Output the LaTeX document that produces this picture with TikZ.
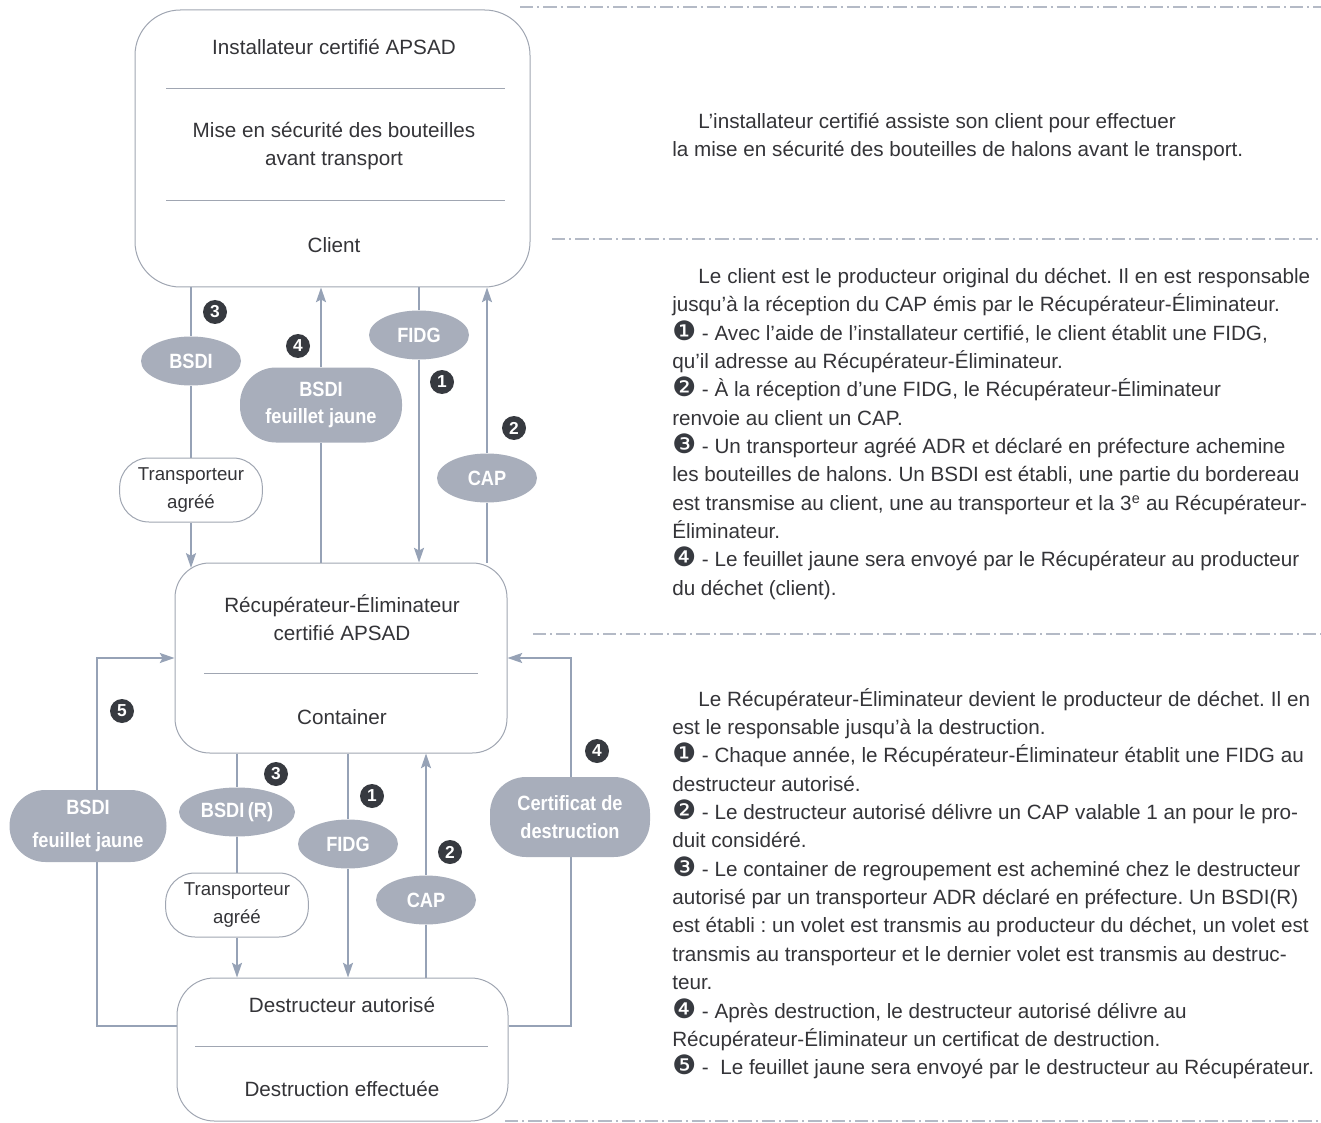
\documentclass[tikz,border=0pt]{standalone}
\usepackage{fontspec}
\setmainfont{Liberation Sans}
\newfontfamily\tagfont[FakeStretch=0.88]{Liberation Sans Bold}
\newfontfamily\dingfont{DejaVu Sans}
\usetikzlibrary{arrows.meta,backgrounds,shapes.geometric}
\frenchspacing

\definecolor{ink}{RGB}{52,52,56}
\definecolor{boxline}{RGB}{160,166,178}
\definecolor{flowgrey}{RGB}{150,162,182}
\definecolor{tagfill}{RGB}{168,174,187}
\definecolor{badge}{RGB}{55,58,64}
\definecolor{rulegrey}{RGB}{180,186,198}

\newcommand{\puce}[1]{{\dingfont\fontsize{20}{20}\selectfont\textcolor{badge}{#1}}}

\tikzset{every picture/.style={line width=0.75pt}}
\tikzset{
  bigbox/.style={draw=boxline, fill=white, rounded corners=#1, inner sep=0pt},
  carrier/.style={draw=boxline, fill=white, rounded corners=22pt, align=center, text=ink,
    font=\fontsize{14}{21}\selectfont, minimum width=107pt, minimum height=48pt, inner sep=0pt},
  docoval/.style={ellipse, fill=tagfill, text=white, font=\tagfont\fontsize{15.5}{20.5}\selectfont,
    minimum width=75pt, minimum height=36.75pt, inner sep=0pt},
  docpill/.style={fill=tagfill, text=white, rounded corners=27pt, align=center,
    font=\tagfont\fontsize{15.5}{20.5}\selectfont, inner sep=0pt},
  numdot/.style={circle, fill=badge, text=white, font=\bfseries\fontsize{13}{13}\selectfont,
    minimum size=18pt, inner sep=0pt},
  boxtext/.style={text=ink, align=center, font=\fontsize{15.5}{21}\selectfont},
  notetext/.style={text=ink, align=left, anchor=north west, inner sep=0pt,
    font=\fontsize{15.5}{21.26}\selectfont},
  flow/.style={draw=flowgrey, line width=1.3pt, -{Stealth[length=11pt,width=7.5pt,inset=2pt]}},
  boxrule/.style={draw=boxline, line width=0.6pt},
  pagerule/.style={draw=rulegrey, line width=0.9pt, dash pattern=on 10pt off 3pt on 1.5pt off 3pt}
}

\begin{document}
\begin{tikzpicture}[x=0.75pt,y=0.75pt,yscale=-1,xscale=1]
	\useasboundingbox (0,0) rectangle (1321,1123);

	%Shape: Rounded Rect [installateur / client]
	\node[bigbox=34pt, minimum width=296.25pt, minimum height=207.75pt] (inst) at (332.5,148.5) {};
	\draw[boxrule] (166,88) -- (505,88) ;
	\draw[boxrule] (166,200) -- (505,200) ;
	% Text Node
	\node[boxtext] (instTitle) at (334,47) {Installateur certifié APSAD};
	\node[boxtext] (instTask) at (334,146) {Mise en sécurité des bouteilles\\avant transport};
	\node[boxtext] (instClient) at (334,245) {Client};

	%Shape: Rounded Rect [recuperateur]
	\node[bigbox=26pt, minimum width=249pt, minimum height=142.5pt] (recup) at (341,658) {};
	\draw[boxrule] (204,673) -- (478,673) ;
	% Text Node
	\node[boxtext] (recupTitle) at (342,618) {Récupérateur-Éliminateur\\certifié APSAD};
	\node[boxtext] (recupCont) at (342,717) {Container};

	%Shape: Rounded Rect [destructeur]
	\node[bigbox=28pt, minimum width=248.25pt, minimum height=107.25pt] (destr) at (342.5,1049.5) {};
	\draw[boxrule] (195,1046) -- (488,1046) ;
	% Text Node
	\node[boxtext] (destrTitle) at (342,1005) {Destructeur autorisé};
	\node[boxtext] (destrDone) at (342,1089) {Destruction effectuée};

	%Documents between client and recuperateur
	\node[docoval] (bsdiA) at (191,361) {BSDI};
	\node[docpill, minimum width=121.5pt, minimum height=56.25pt] (sheetA) at (321,405) {BSDI\\feuillet jaune};
	\node[docoval] (fidgA) at (419,335) {FIDG};
	\node[docoval] (capA) at (487,478) {CAP};
	\node[carrier] (transA) at (191,490) {Transporteur\\agréé};

	%Documents between recuperateur and destructeur
	\node[docoval, minimum width=87pt] (bsdiB) at (237,812) {BSDI\,(R)};
	\node[docoval] (fidgB) at (348,844) {FIDG};
	\node[docoval] (capB) at (426,900) {CAP};
	\node[carrier] (transB) at (237,905) {Transporteur\\agréé};
	\node[docpill, minimum width=117.75pt, minimum height=54pt, font=\tagfont\fontsize{15.5}{25}\selectfont] (sheetB) at (88,826) {BSDI\\feuillet jaune};
	\node[docpill, minimum width=120pt, minimum height=60pt] (certB) at (570,817) {Certificat de\\destruction};
	\coordinate (leftturn) at (97,1026);
	\coordinate (rightturn) at (571,1026);

	%Step numbers
	\node[numdot] (nA3) at (215,312) {3};
	\node[numdot] (nA4) at (298,346) {4};
	\node[numdot] (nA1) at (442,382) {1};
	\node[numdot] (nA2) at (514,428) {2};
	\node[numdot] (nB5) at (122,711) {5};
	\node[numdot] (nB3) at (276,774) {3};
	\node[numdot] (nB1) at (372,796) {1};
	\node[numdot] (nB2) at (450,852) {2};
	\node[numdot] (nB4) at (597,751) {4};

	%Straight Lines
	\begin{pgfonlayer}{background}
	\draw[flow, shorten >=-4pt] (inst.south -| bsdiA) -- (bsdiA) -- (transA) -- (transA |- recup.north) ;
	\draw[flow] (recup.north -| sheetA) -- (sheetA) -- (inst.south -| sheetA) ;
	\draw[flow] (inst.south -| fidgA) -- (fidgA) -- (recup.north -| fidgA) ;
	\draw[flow] (recup.north -| capA) -- (capA) -- (inst.south -| capA) ;
	\draw[flow] (recup.south -| bsdiB) -- (bsdiB) -- (transB) -- (transB |- destr.north) ;
	\draw[flow] (recup.south -| fidgB) -- (fidgB) -- (destr.north -| fidgB) ;
	\draw[flow] (destr.north -| capB) -- (capB) -- (recup.south -| capB) ;
	\draw[flow] (destr.west |- leftturn) -- (leftturn) |- (recup.west) ;
	\draw[flow] (destr.east |- rightturn) -- (rightturn) |- (recup.east) ;
	\end{pgfonlayer}

	%Dashed rules of the right column
	\draw[pagerule] (520,7) -- (1321,7) ;
	\draw[pagerule] (552,239) -- (1321,239) ;
	\draw[pagerule] (533,634) -- (1321,634) ;
	\draw[pagerule] (505,1121) -- (1321,1121) ;

	% Text Node
	\node[notetext] (noteA) at (672,113) {\hspace*{19.5pt}L'installateur certifié assiste son client pour effectuer\\
	la mise en sécurité des bouteilles de halons avant le transport.};
	% Text Node
	\node[notetext] (noteB) at (672,268) {\makebox[478.5pt][s]{\hspace{19.5pt}Le client est le producteur original du déchet. Il en est responsable}\\
	jusqu'à la réception du CAP émis par le Récupérateur-Éliminateur.\\
	\puce{❶} - Avec l'aide de l'installateur certifié, le client établit une FIDG,\\
	qu'il adresse au Récupérateur-Éliminateur.\\
	\puce{❷} - À la réception d'une FIDG, le Récupérateur-Éliminateur\\
	renvoie au client un CAP.\\
	\puce{❸} - Un transporteur agréé ADR et déclaré en préfecture achemine\\
	les bouteilles de halons. Un BSDI est établi, une partie du bordereau\\
	est transmise au client, une au transporteur et la 3\textsuperscript{e} au Récupérateur-\\
	Éliminateur.\\
	\puce{❹} - Le feuillet jaune sera envoyé par le Récupérateur au producteur\\
	du déchet (client).};
	% Text Node
	\node[notetext] (noteC) at (672,688) {\makebox[478.5pt][s]{\hspace{19.5pt}Le Récupérateur-Éliminateur devient le producteur de déchet. Il en}\\
	est le responsable jusqu'à la destruction.\\
	\puce{❶} - Chaque année, le Récupérateur-Éliminateur établit une FIDG au\\
	destructeur autorisé.\\
	\puce{❷} - Le destructeur autorisé délivre un CAP valable 1 an pour le pro-\\
	duit considéré.\\
	\puce{❸} - Le container de regroupement est acheminé chez le destructeur\\
	autorisé par un transporteur ADR déclaré en préfecture. Un BSDI(R)\\
	est établi : un volet est transmis au producteur du déchet, un volet est\\
	transmis au transporteur et le dernier volet est transmis au destruc-\\
	teur.\\
	\puce{❹} - Après destruction, le destructeur autorisé délivre au\\
	Récupérateur-Éliminateur un certificat de destruction.\\
	\puce{❺} -\ \ Le feuillet jaune sera envoyé par le destructeur au Récupérateur.};

\end{tikzpicture}
\end{document}
